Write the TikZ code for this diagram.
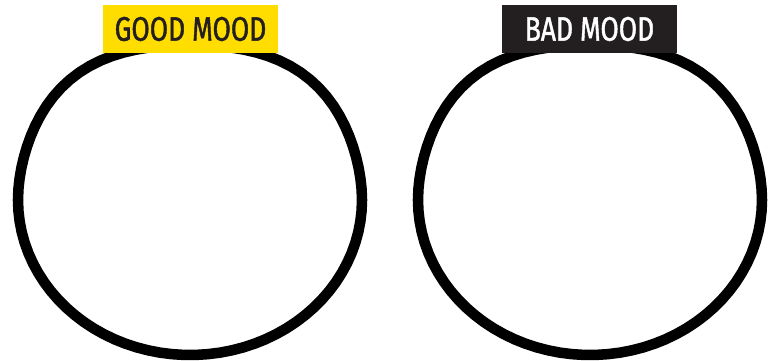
\documentclass[tikz,border=0pt]{standalone}
\usepackage{fontspec}
\newfontfamily\moodfont{Fira Sans}[FakeBold=1.5]
\definecolor{moodyellow}{HTML}{FFDD00}
\definecolor{moodblack}{HTML}{231F20}

\begin{document}
\begin{tikzpicture}[x=.03cm,y=-.03cm,
  ring/.style={draw=black,line width=9pt,line join=round},
  tag/.style={minimum width=5.25cm,minimum height=1.44cm,inner sep=0pt,
    font=\moodfont\fontsize{29}{29}\selectfont}]
\useasboundingbox (0,0) rectangle (776,361);
% the two hand drawn circles, slightly squared at the top
\foreach \dx in {0,400}
  \draw[ring,shift={(\dx,0)}] plot[domain=0:356,samples=90]
    ({190+172*(1+.06*max(0,sin(\x))*sin(2*\x)^2)*cos(\x)},
     {200-155*(1+.06*max(0,sin(\x))*sin(2*\x)^2)*sin(\x)}) -- cycle;
% labels
\node[tag,fill=moodyellow,text=moodblack] (good) at (190.5,29) {\scalebox{.78}[1]{GOOD MOOD}};
\node[tag,fill=moodblack,text=white] (bad) at (589.5,29) {\scalebox{.78}[1]{BAD MOOD}};
\end{tikzpicture}
\end{document}
